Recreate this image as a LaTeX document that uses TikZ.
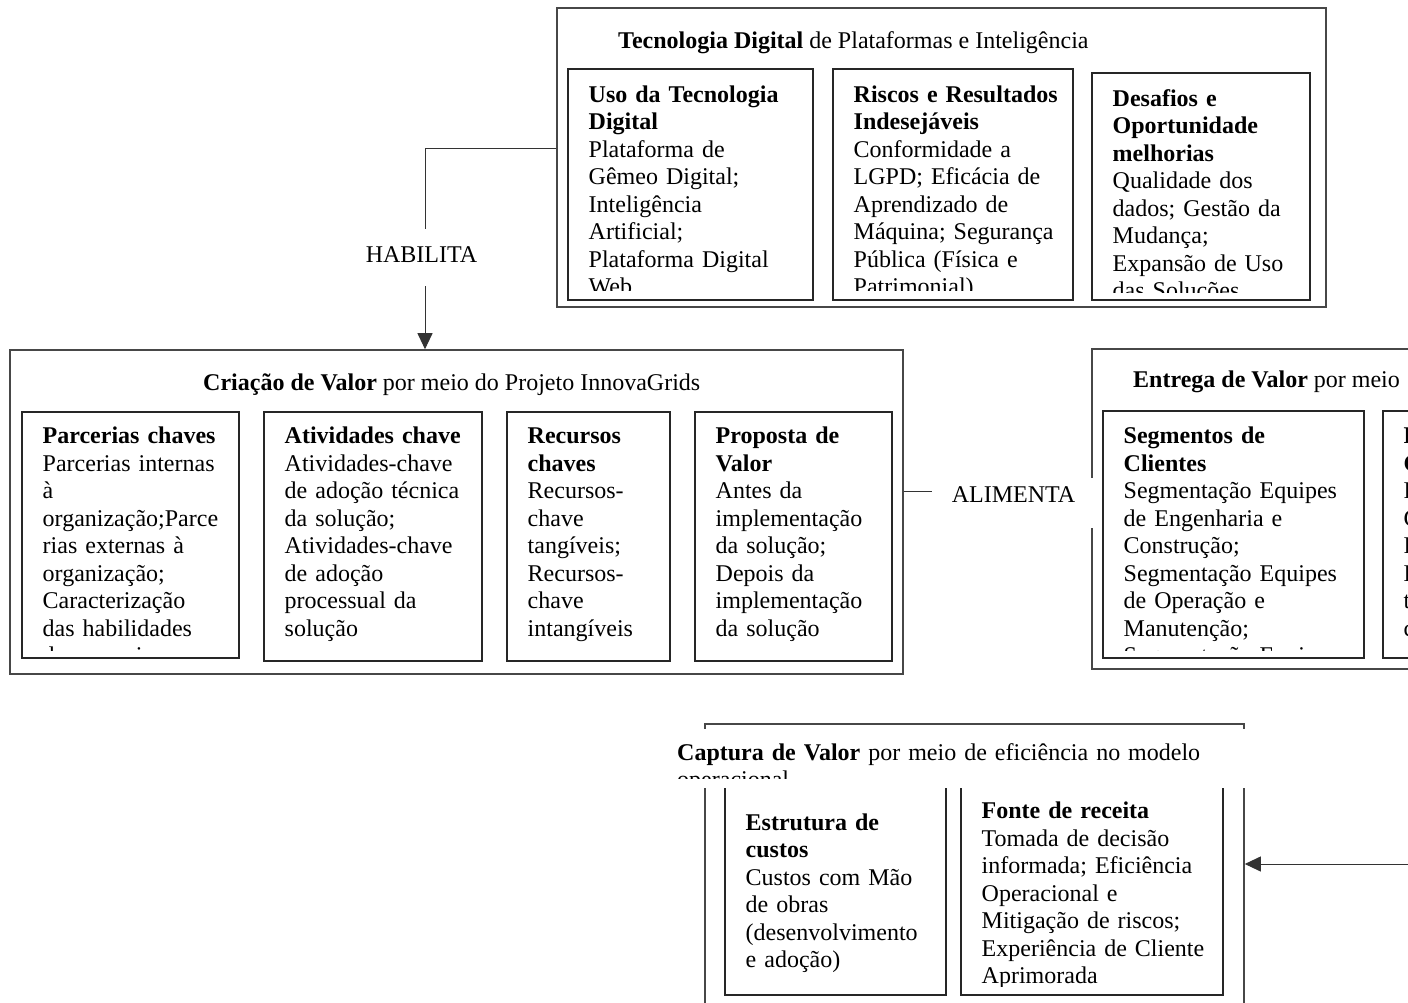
\documentclass[tikz,border=0pt]{standalone}
\usepackage{fontspec}
\setmainfont{Liberation Serif}
\usetikzlibrary{arrows.meta,fit}
\newcommand\fsz{\fontsize{24pt}{27.5pt}\selectfont}
\newcommand\tstrut{\rule{0pt}{19.25pt}}
\tikzset{
  outerbox/.style={draw=black!72, line width=1.6pt, inner sep=0pt},
  ibox/.style={draw=black!85, line width=1.3pt, inner sep=0pt},
  txt/.style={anchor=north west, inner sep=0pt, text width=400pt, align=left, font=\fsz},
  ttl/.style={anchor=base west, inner sep=0pt, font=\fsz},
  conn/.style={draw=black!80, line width=1pt},
  tipped/.style={-{Triangle[length=16pt,width=15pt]}},
  cover/.style={fill=white, draw=none, inner sep=0pt},
}
% name, x1, y1, x2, y2, first baseline, clip y, content
\newcommand\tbox[8]{%
  \node[ibox, fit={(#2,#3) (#4,#5)}] (#1) {};
  \begin{scope}
    \clip (#2,#3) rectangle (#4,#7);
    \node[txt] (#1-t) at (#2+20.5,#6-19.25) {\tstrut#8};
  \end{scope}}
\begin{document}
\begin{tikzpicture}[x=1pt,y=-1pt]
\useasboundingbox (0,0) rectangle (1408,1003);
\fill[white] (0,0) rectangle (1408,1003);

% ---------- Tecnologia Digital ----------
\node[outerbox, fit={(557,8) (1326,307)}] (tech) {};
\node[ttl] (techttl) at (618,48.3) {\textbf{Tecnologia Digital} de Plataformas e Inteligência};
\tbox{uso}{568}{69}{813}{300}{102}{290}{\textbf{Uso da Tecnologia}\\\textbf{Digital}\\Plataforma de\\Gêmeo Digital;\\Inteligência\\Artificial;\\Plataforma Digital\\Web}
\tbox{risc}{833}{69}{1073}{300}{102}{290}{\textbf{Riscos e Resultados}\\\textbf{Indesejáveis}\\Conformidade a\\LGPD; Eficácia de\\Aprendizado de\\Máquina; Segurança\\Pública (Física e\\Patrimonial)}
\tbox{desa}{1092}{73}{1310}{300}{106}{292}{\textbf{Desafios e}\\\textbf{Oportunidade}\\\textbf{melhorias}\\Qualidade dos\\dados; Gestão da\\Mudança;\\Expansão de Uso\\das Soluções}

% ---------- Criacao de Valor ----------
\node[outerbox, fit={(10,350) (903,674)}] (crea) {};
\node[ttl] (creattl) at (203,390.5) {\textbf{Criação de Valor} por meio do Projeto InnovaGrids};
\tbox{parc}{22}{412}{239}{658}{443.3}{650.5}{\textbf{Parcerias chaves}\\Parcerias internas\\à\\organização;Parce\\rias externas à\\organização;\\Caracterização\\das habilidades\\dos parceiros}
\tbox{ativ}{264}{412}{482}{661}{443.3}{650.5}{\textbf{Atividades chave}\\Atividades-chave\\de adoção técnica\\da solução;\\Atividades-chave\\de adoção\\processual da\\solução}
\tbox{recu}{507}{412}{670}{661}{443.3}{650.5}{\textbf{Recursos}\\\textbf{chaves}\\Recursos-\\chave\\tangíveis;\\Recursos-\\chave\\intangíveis}
\tbox{prop}{695}{412}{892}{661}{443.3}{650.5}{\textbf{Proposta de}\\\textbf{Valor}\\Antes da\\implementação\\da solução;\\Depois da\\implementação\\da solução}

% ---------- Entrega de Valor ----------
\node[outerbox, fit={(1092,349) (1440,669)}] (entr) {};
\node[ttl] (entrttl) at (1133,387) {\textbf{Entrega de Valor} por meio};
\tbox{segm}{1103}{411}{1364}{658}{443.3}{650.5}{\textbf{Segmentos de}\\\textbf{Clientes}\\Segmentação Equipes\\de Engenharia e\\Construção;\\Segmentação Equipes\\de Operação e\\Manutenção;\\Segmentação Equipes}
\tbox{rela}{1383}{411}{1660}{658}{443.3}{650.5}{\textbf{Relacionamento com}\\\textbf{Clientes}\\Reuniões de\\Comunicação;\\Palestras e\\Eventos;\\treinamentos e\\capacitações}

% ---------- ALIMENTA ----------
\node[cover, fit={(932,478) (1102,528)}] (alimbox) {};
\node[ttl] (alim) at (951.7,502.3) {ALIMENTA};
\draw[conn] ([yshift=20.3pt]crea.east) -- ([yshift=11.3pt]alimbox.west);

% ---------- HABILITA ----------
\node[ttl, anchor=base, text height=33pt, text depth=23.7pt] (habil) at (421.5,262.3) {HABILITA};
\coordinate (habn) at ([xshift=3.5pt]habil.north);
\coordinate (habs) at ([xshift=3.5pt]habil.south);
\draw[conn] ([yshift=8.5pt]tech.west) -| (habn);
\draw[conn,tipped] (habs) -- (habs |- crea.north);

% ---------- Captura de Valor ----------
\node[outerbox, fit={(705,724) (1244,1040)}] (capt) {};
\tbox{estr}{725}{780}{946}{995}{830}{988}{\textbf{Estrutura de}\\\textbf{custos}\\Custos com Mão\\de obras\\(desenvolvimento\\e adoção)}
\tbox{fonte}{961}{780}{1223}{995}{818.3}{986}{\textbf{Fonte de receita}\\Tomada de decisão\\informada; Eficiência\\Operacional e\\Mitigação de riscos;\\Experiência de Cliente\\Aprimorada}
\node[cover, fit={(668,728.5) (1252,787.5)}] (captbox) {};
\begin{scope}
  \clip (668,728.5) rectangle (1252,778);
  \node[txt, text width=560pt] (captttl) at (677,760-19.25) {\tstrut\textbf{Captura de Valor} por meio de eficiência no modelo\\operacional};
\end{scope}

\coordinate (capin) at (1420,864);
\draw[conn,tipped] (capin) -- (capin -| capt.east);
\end{tikzpicture}
\end{document}
